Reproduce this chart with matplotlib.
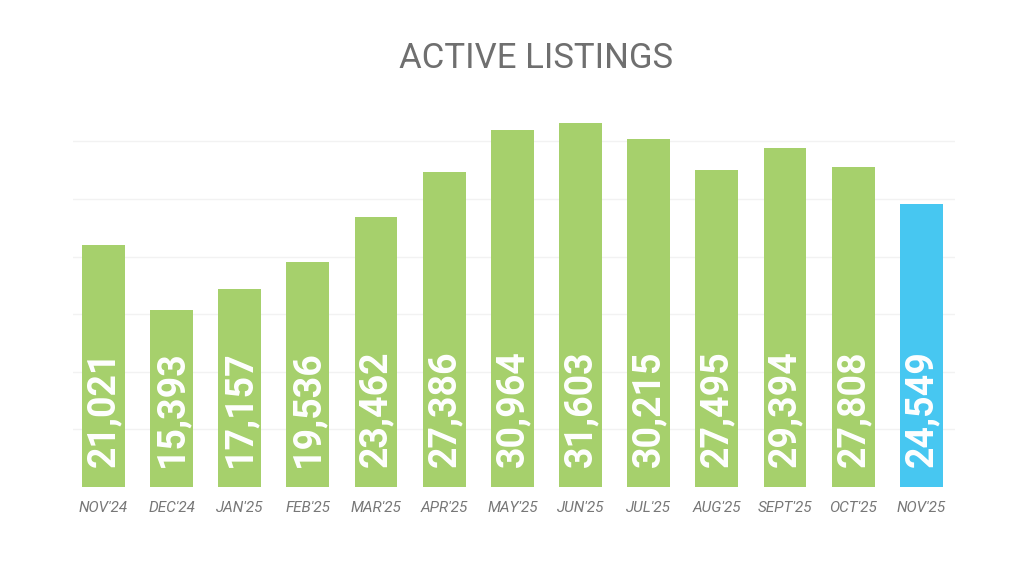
import matplotlib
matplotlib.use("Agg")
import matplotlib.pyplot as plt

months = ["NOV'24","DEC'24","JAN'25","FEB'25","MAR'25","APR'25","MAY'25","JUN'25","JUL'25","AUG'25","SEPT'25","OCT'25","NOV'25"]
values = [21021,15393,17157,19536,23462,27386,30964,31603,30215,27495,29394,27808,24549]
colors = ["#A6D06C"]*12 + ["#47C7F1"]

fig = plt.figure(figsize=(10.24,5.76), dpi=100)
ax = fig.add_axes([0.071,0.1545,0.862,0.64])
x = range(len(values))
bars = ax.bar(x, values, width=0.63, color=colors, zorder=2)
ax.set_ylim(0,32000)
ax.set_xlim(-0.45, len(values)-0.5)
for y in range(5000,32000,5000):
    ax.axhline(y, color="#f2f2f2", lw=1, zorder=1)
for xi,v in zip(x,values):
    ax.text(xi, 1700, f"{v:,}", rotation=90, ha="center", va="bottom", color="white",
            fontsize=27, fontweight="bold", family="Roboto", zorder=3)
ax.set_xticks(list(x))
ax.set_xticklabels(months, fontsize=11, style="italic", color="#777777", family="Roboto")
ax.tick_params(length=0, pad=10)
ax.set_yticks([])
for s in ax.spines.values():
    s.set_visible(False)
fig.text(0.523, 0.898, "ACTIVE LISTINGS", ha="center", va="center", fontsize=25, color="#6f6f6f", family="Roboto")
fig.savefig("out.png", dpi=100)
